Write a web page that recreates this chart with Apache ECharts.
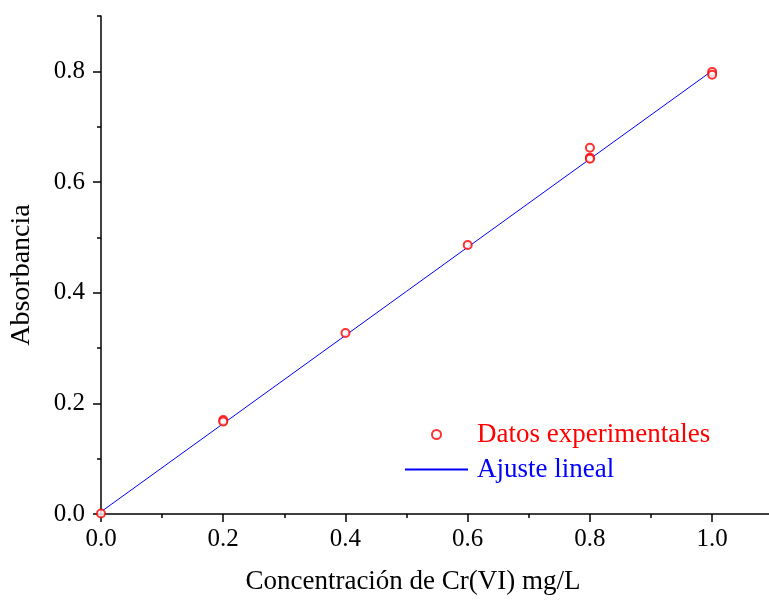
<!DOCTYPE html>
<html>
<head>
<meta charset="utf-8">
<script src="https://cdn.jsdelivr.net/npm/echarts@6/dist/echarts.min.js"></script>
<style>html,body{margin:0;padding:0;background:#fff;}#c{width:769px;height:600px;}</style>
</head>
<body>
<div id="c"></div>
<script>
// Data
var expX = [0.0, 0.2, 0.2, 0.4, 0.6, 0.8, 0.8, 0.8, 1.0, 1.0];
var expY = [0.001, 0.170, 0.167, 0.327, 0.486, 0.662, 0.644, 0.642, 0.799, 0.794];
var fitX = [0.0, 1.0];
var fitY = [0.004, 0.801];
var xMajorTicks = [0, 0.2, 0.4, 0.6, 0.8, 1.0];
var xMinorTicks = [0.1, 0.3, 0.5, 0.7, 0.9];
var yMajorTicks = [0, 0.2, 0.4, 0.6, 0.8];
var yMinorTicks = [0.1, 0.3, 0.5, 0.7, 0.9];
var xTitle = 'Concentración de Cr(VI) mg/L';
var yTitle = 'Absorbancia';
var seriesNames = ['Datos experimentales', 'Ajuste lineal'];

var FONT = '"Liberation Serif", "Times New Roman", serif';
var chart = echarts.init(document.getElementById('c'), null, {renderer: 'canvas'});

function pairs(xs, ys) { return xs.map(function (x, i) { return [x, ys[i]]; }); }

var axisLineStyle = {color: '#000', width: 1.5};
var X_MAX = 1.093;

chart.setOption({
  animation: false,
  backgroundColor: '#fff',
  grid: {left: 97, right: 0, top: 16, bottom: 85, containLabel: false},
  legend: {
    orient: 'vertical',
    left: 399,
    top: 416,
    itemWidth: 63,
    itemHeight: 9,
    itemGap: 8,
    data: [
      {name: seriesNames[0], textStyle: {color: '#ff0000'}},
      {name: seriesNames[1], textStyle: {color: '#0000ff'}, itemStyle: {opacity: 0}}
    ],
    textStyle: {fontFamily: FONT, fontSize: 27, padding: [0, 0, 0, 4]}
  },
  xAxis: [{
    type: 'value', min: 0, max: X_MAX, interval: 0.2, position: 'bottom',
    name: xTitle, nameLocation: 'middle', nameGap: 54,
    nameTextStyle: {fontFamily: FONT, fontSize: 27, color: '#000', padding: [0, 44, 0, 0]},
    axisLine: {show: true, lineStyle: axisLineStyle},
    axisTick: {show: true, inside: false, length: 8, customValues: xMajorTicks, lineStyle: {color: '#000', width: 1.5}},
    axisLabel: {customValues: xMajorTicks, margin: 13, fontFamily: FONT, fontSize: 25, color: '#000',
      formatter: function (v) { return v.toFixed(1); }},
    splitLine: {show: false}
  }, {
    type: 'value', min: 0, max: X_MAX, interval: 0.1, position: 'bottom',
    axisLine: {show: false},
    axisTick: {show: true, inside: false, length: 4, customValues: xMinorTicks, lineStyle: {color: '#000', width: 1.5}},
    axisLabel: {show: false},
    splitLine: {show: false}
  }],
  yAxis: [{
    type: 'value', min: 0, max: 0.9, interval: 0.2, position: 'left',
    name: yTitle, nameLocation: 'middle', nameGap: 65,
    nameTextStyle: {fontFamily: FONT, fontSize: 28, color: '#000', padding: [0, 20, 0, 0]},
    axisLine: {show: true, lineStyle: axisLineStyle},
    axisTick: {show: true, inside: false, length: 8, customValues: yMajorTicks, lineStyle: {color: '#000', width: 1.5}},
    axisLabel: {customValues: yMajorTicks, margin: 16, fontFamily: FONT, fontSize: 25, color: '#000',
      formatter: function (v) { return v.toFixed(1); }},
    splitLine: {show: false}
  }, {
    type: 'value', min: 0, max: 0.9, interval: 0.1, position: 'left',
    axisLine: {show: false},
    axisTick: {show: true, inside: false, length: 4, customValues: yMinorTicks, lineStyle: {color: '#000', width: 1.5}},
    axisLabel: {show: false},
    splitLine: {show: false}
  }],
  series: [{
    name: seriesNames[0],
    type: 'scatter',
    xAxisIndex: 0, yAxisIndex: 0,
    symbol: 'emptyCircle',
    symbolSize: 8,
    itemStyle: {color: '#ff0000', borderColor: '#ff0000', borderWidth: 1.3},
    data: pairs(expX, expY),
    z: 3
  }, {
    name: seriesNames[1],
    type: 'line',
    xAxisIndex: 0, yAxisIndex: 0,
    symbol: 'none',
    showSymbol: false,
    lineStyle: {color: '#0000ff', width: 1},
    itemStyle: {color: '#0000ff'},
    data: pairs(fitX, fitY),
    z: 2
  }]
});
</script>
</body>
</html>
